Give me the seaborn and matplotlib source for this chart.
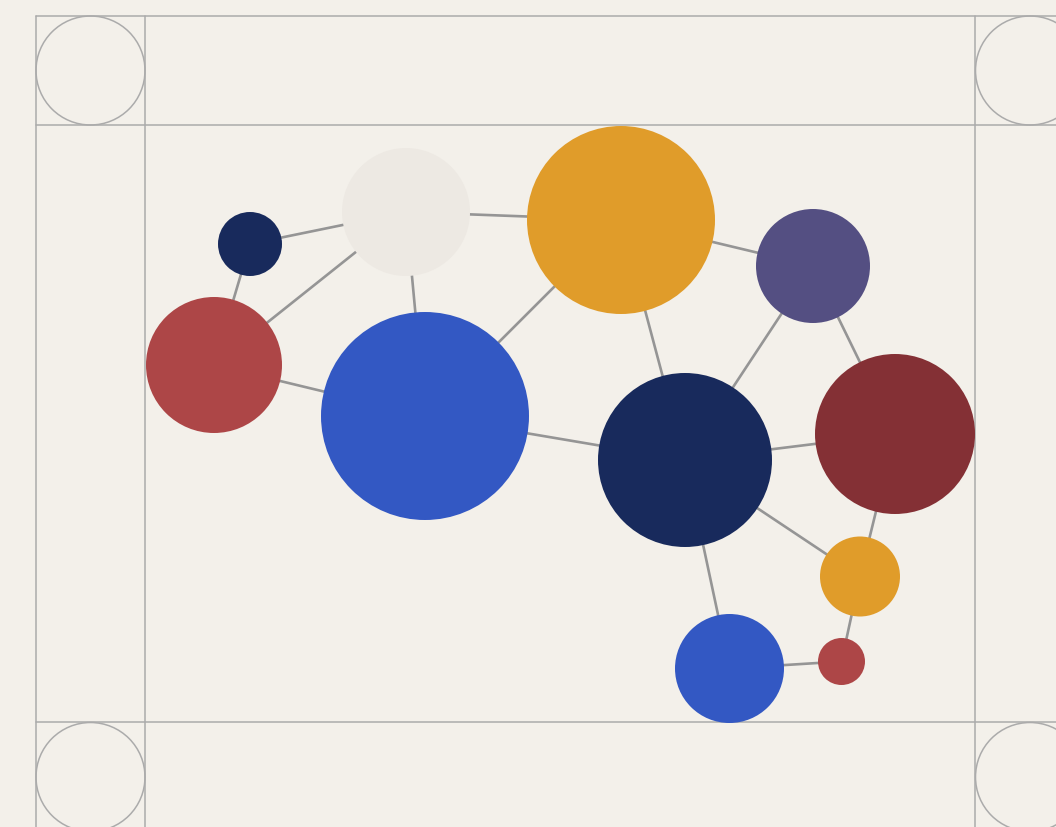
import matplotlib
matplotlib.use("Agg")
import matplotlib.pyplot as plt
from matplotlib.patches import Circle
import seaborn as sns
import pandas as pd
import numpy as np

# ---- data (pixel-space layout of the network) ----
node_names = ["n1", "n2", "n3", "n4", "n5", "n6", "n7", "n8", "n9", "n10", "n11"]
node_x = [250, 406, 621, 813, 214, 425, 685, 895, 860, 729.5, 841.5]
node_y = [244, 212, 220, 266, 365, 416, 460, 434, 576.5, 668.5, 661.5]
node_r = [32, 64, 94, 57, 68, 104, 87, 80, 40, 54.5, 23.5]
node_colors = ["#182A5C", "#EDE9E3", "#E09C2A", "#544F82", "#AD4647", "#3358C3",
               "#182A5C", "#843035", "#E09C2A", "#3358C3", "#AD4647"]
edges = [("n1", "n2"), ("n1", "n5"), ("n2", "n5"), ("n2", "n3"), ("n2", "n6"),
         ("n5", "n6"), ("n3", "n6"), ("n3", "n4"), ("n3", "n7"), ("n4", "n7"),
         ("n4", "n8"), ("n6", "n7"), ("n7", "n8"), ("n7", "n9"), ("n8", "n9"),
         ("n7", "n10"), ("n10", "n11"), ("n9", "n11")]

# decorative frame
frame_vlines = [36, 145, 975, 1085]
frame_hlines = [16, 125, 722, 832]
corner_cx = [90.5, 1030, 90.5, 1030]
corner_cy = [70.5, 70.5, 777, 777]
corner_r = 54.5

W, H = 1056, 827
bg = "#F3F0EA"
sns.set_theme(style="white", rc={"figure.facecolor": bg, "axes.facecolor": bg})

fig = plt.figure(figsize=(W / 100, H / 100), dpi=100)
ax = fig.add_axes([0, 0, 1, 1])
ax.set_xlim(0, W)
ax.set_ylim(H, 0)
ax.set_axis_off()

line_c = "#ABABAB"
for x in frame_vlines:
    ax.plot([x, x], [frame_hlines[0], frame_hlines[-1]], color=line_c, lw=1.1, zorder=1)
for y in frame_hlines:
    ax.plot([frame_vlines[0], frame_vlines[-1]], [y, y], color=line_c, lw=1.1, zorder=1)
for cx, cy in zip(corner_cx, corner_cy):
    ax.add_patch(Circle((cx, cy), corner_r, fill=False, ec=line_c, lw=1.1, zorder=1))

nodes = pd.DataFrame({"name": node_names, "x": node_x, "y": node_y, "r": node_r})
pos = {n: (x, y) for n, x, y in zip(node_names, node_x, node_y)}
for a, b in edges:
    (x0, y0), (x1, y1) = pos[a], pos[b]
    ax.plot([x0, x1], [y0, y1], color="#959595", lw=1.9, zorder=2, solid_capstyle="butt")

for n, x, y, r, c in zip(node_names, node_x, node_y, node_r, node_colors):
    ax.add_patch(Circle((x, y), r, facecolor=c, edgecolor="none", zorder=3))

fig.savefig("out.png", dpi=100, facecolor=bg)
